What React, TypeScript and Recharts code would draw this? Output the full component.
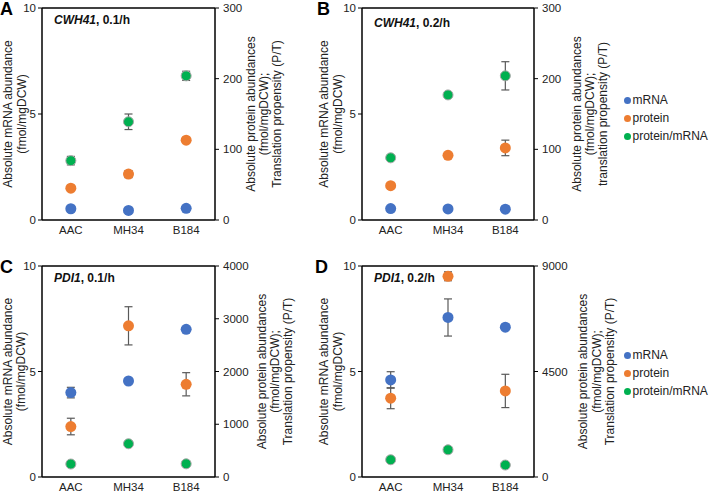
import React from 'react';
import {
  ComposedChart,
  Line,
  XAxis,
  YAxis,
  ErrorBar,
  ReferenceLine,
  Legend
} from 'recharts';

const FONT = '"Liberation Sans", Arial, Helvetica, sans-serif';

const categories = ['AAC', 'MH34', 'B184'];

// A: CWH41, 0.1/h
const aMrna = [0.53, 0.45, 0.55];
const aMrnaErr = [0.02, 0.02, 0.02];
const aProtein = [45, 65, 113];
const aProteinErr = [2, 5, 2];
const aRatio = [84, 139, 204];
const aRatioErr = [6, 11, 6.5];

// B: CWH41, 0.2/h
const bMrna = [0.54, 0.52, 0.51];
const bMrnaErr = [0.02, 0.02, 0.02];
const bProtein = [48.5, 91.5, 102];
const bProteinErr = [2, 2, 11];
const bRatio = [88, 177, 204];
const bRatioErr = [2, 3, 20];

// C: PDI1, 0.1/h
const cMrna = [4.0, 4.55, 7.0];
const cMrnaErr = [0.25, 0.05, 0.03];
const cProtein = [957, 2866, 1758];
const cProteinErr = [157, 362, 220];
const cRatio = [246, 630, 250];
const cRatioErr = [15, 30, 10];

// D: PDI1, 0.2/h
const dMrna = [4.6, 7.56, 7.1];
const dMrnaErr = [0.39, 0.88, 0.08];
const dProtein = [3360, 8562, 3671];
const dProteinErr = [447, 190, 710];
const dRatio = [736, 1161, 510];
const dRatioErr = [20, 100, 20];

const leftTicks = [0, 5, 10];
const rightTicksAB = [0, 100, 200, 300];
const rightTicksC = [0, 1000, 2000, 3000, 4000];
const rightTicksD = [0, 4500, 9000];

const SERIES = [
  { key: 'mrna', name: 'mRNA', color: '#4472C4' },
  { key: 'protein', name: 'protein', color: '#ED7D31' },
  { key: 'ratio', name: 'protein/mRNA', color: '#00B050' },
];

const AxisTitle = ({ lines, xs, cy }: { lines: string[]; xs: number[]; cy: number }) => (
  <g>
    {lines.map((t, i) => (
      <text
        key={i}
        x={xs[i]}
        y={cy}
        transform={`rotate(-90, ${xs[i]}, ${cy})`}
        textAnchor="middle"
        dominantBaseline="central"
        fontSize={12}
        fill="#222"
        fontFamily={FONT}
      >
        {t}
      </text>
    ))}
  </g>
);

const LegendContent = () => (
  <div style={{ fontFamily: FONT, fontSize: 12, color: '#222' }}>
    {SERIES.map((s) => (
      <div key={s.key} style={{ display: 'flex', alignItems: 'center', height: 18, whiteSpace: 'nowrap' }}>
        <span
          style={{
            display: 'inline-block',
            width: 7,
            height: 7,
            borderRadius: '50%',
            background: s.color,
            marginRight: 2,
          }}
        />
        {s.name}
      </div>
    ))}
  </div>
);

interface PanelProps {
  left: number;
  top: number;
  width: number;
  leftW: number;
  plotW: number;
  letter: string;
  letterX: number;
  gene: string;
  rate: string;
  titleTop: number;
  rightMax: number;
  rightTicks: number[];
  mrna: number[];
  mrnaErr: number[];
  protein: number[];
  proteinErr: number[];
  ratio: number[];
  ratioErr: number[];
  leftTitleX: number[];
  rightTitleX: number[];
  rightTitle: string[];
  xAxisHeight: number;
  legendLeft?: number;
  legendTop?: number;
}

const Panel = (p: PanelProps) => {
  const data = categories.map((c, i) => ({
    cat: c,
    mrna: p.mrna[i],
    mrnaErr: p.mrnaErr[i],
    protein: p.protein[i],
    proteinErr: p.proteinErr[i],
    ratio: p.ratio[i],
    ratioErr: p.ratioErr[i],
  }));
  const height = 245;
  const rightWidth = p.width - p.leftW - p.plotW;
  const cy = 8 + (height - 8 - p.xAxisHeight) / 2;
  const tick = { fontSize: 11.5, fill: '#222', fontFamily: FONT };

  return (
    <div style={{ position: 'absolute', left: p.left, top: p.top, width: p.width, height }}>
      <ComposedChart
        width={p.width}
        height={height}
        data={data}
        margin={{ top: 8, right: 0, bottom: 0, left: 0 }}
      >
        <XAxis
          dataKey="cat"
          type="category"
          scale="band"
          height={p.xAxisHeight}
          tickLine={false}
          tickSize={0}
          tickMargin={6}
          axisLine={{ stroke: '#000', strokeWidth: 1.5 }}
          tick={tick}
        />
        <YAxis
          yAxisId="left"
          width={p.leftW}
          domain={[0, 10]}
          ticks={leftTicks}
          tickSize={4}
          tickMargin={2}
          axisLine={{ stroke: '#000', strokeWidth: 1.5 }}
          tickLine={{ stroke: '#000', strokeWidth: 1 }}
          tick={tick}
          label={<AxisTitle lines={['Absolute mRNA abundance', '(fmol/mgDCW)']} xs={p.leftTitleX} cy={cy} />}
        />
        <YAxis
          yAxisId="right"
          orientation="right"
          width={rightWidth}
          domain={[0, p.rightMax]}
          ticks={p.rightTicks}
          tickSize={4}
          tickMargin={4}
          axisLine={{ stroke: '#000', strokeWidth: 1.5 }}
          tickLine={{ stroke: '#000', strokeWidth: 1 }}
          tick={tick}
          label={<AxisTitle lines={p.rightTitle} xs={p.rightTitleX} cy={cy} />}
        />
        <ReferenceLine yAxisId="left" y={10} stroke="#000" strokeWidth={1.5} />
        {SERIES.map((s) => (
          <Line
            key={s.key}
            dataKey={s.key}
            name={s.name}
            yAxisId={s.key === 'mrna' ? 'left' : 'right'}
            stroke="none"
            legendType="none"
            dot={{
              r: s.key === 'ratio' ? 5 : 5.5,
              fill: s.color,
              stroke: s.key === 'ratio' ? '#a6a6a6' : 'none',
              strokeWidth: 1,
              fillOpacity: 1,
            }}
            activeDot={false}
            isAnimationActive={false}
          >
            <ErrorBar dataKey={`${s.key}Err`} direction="y" width={4} stroke="#595959" strokeWidth={1.2} />
          </Line>
        ))}
        {p.legendTop !== undefined && (
          <Legend
            layout="vertical"
            align="center"
            verticalAlign="middle"
            content={<LegendContent />}
            wrapperStyle={{ left: p.legendLeft, top: p.legendTop, width: 'auto', height: 'auto' }}
          />
        )}
      </ComposedChart>
      <div
        style={{
          position: 'absolute',
          left: p.letterX,
          top: 0,
          fontFamily: FONT,
          fontWeight: 'bold',
          fontSize: 18,
          lineHeight: '18px',
        }}
      >
        {p.letter}
      </div>
      <div
        style={{
          position: 'absolute',
          left: p.leftW + 12,
          top: p.titleTop,
          fontFamily: FONT,
          fontWeight: 'bold',
          fontSize: 12,
          lineHeight: '14px',
          color: '#111',
          whiteSpace: 'nowrap',
        }}
      >
        <i>{p.gene}</i>, {p.rate}
      </div>
    </div>
  );
};

const App: React.FC = () => {
  return (
    <div
      style={{
        position: 'absolute',
        left: 0,
        top: 0,
        width: 711,
        height: 493,
        background: '#fff',
        fontFamily: FONT,
      }}
    >
      <Panel
        left={0}
        top={0}
        width={320}
        leftW={42}
        plotW={173}
        letter="A"
        letterX={0}
        gene="CWH41"
        rate="0.1/h"
        titleTop={13}
        rightMax={300}
        rightTicks={rightTicksAB}
        mrna={aMrna}
        mrnaErr={aMrnaErr}
        protein={aProtein}
        proteinErr={aProteinErr}
        ratio={aRatio}
        ratioErr={aRatioErr}
        leftTitleX={[8, 22]}
        rightTitleX={[251, 264, 277]}
        rightTitle={['Absolute protein abundances', '(fmol/mgDCW);', 'Translation propensity (P/T)']}
        xAxisHeight={25}
      />
      <Panel
        left={300}
        top={0}
        width={411}
        leftW={62}
        plotW={172}
        letter="B"
        letterX={17}
        gene="CWH41"
        rate="0.2/h"
        titleTop={16}
        rightMax={300}
        rightTicks={rightTicksAB}
        mrna={bMrna}
        mrnaErr={bMrnaErr}
        protein={bProtein}
        proteinErr={bProteinErr}
        ratio={bRatio}
        ratioErr={bRatioErr}
        leftTitleX={[24, 38]}
        rightTitleX={[277, 290, 303]}
        rightTitle={['Absolute protein abundances', '(fmol/mgDCW);', 'translation propensity (P/T)']}
        xAxisHeight={25}
        legendLeft={323.5}
        legendTop={91}
      />
      <Panel
        left={0}
        top={258}
        width={320}
        leftW={42}
        plotW={173}
        letter="C"
        letterX={0}
        gene="PDI1"
        rate="0.1/h"
        titleTop={13}
        rightMax={4000}
        rightTicks={rightTicksC}
        mrna={cMrna}
        mrnaErr={cMrnaErr}
        protein={cProtein}
        proteinErr={cProteinErr}
        ratio={cRatio}
        ratioErr={cRatioErr}
        leftTitleX={[8, 21]}
        rightTitleX={[262, 275, 288]}
        rightTitle={['Absolute protein abundances', '(fmol/mgDCW);', 'Translation propensity (P/T)']}
        xAxisHeight={26}
      />
      <Panel
        left={300}
        top={258}
        width={411}
        leftW={62}
        plotW={172}
        letter="D"
        letterX={15}
        gene="PDI1"
        rate="0.2/h"
        titleTop={13}
        rightMax={9000}
        rightTicks={rightTicksD}
        mrna={dMrna}
        mrnaErr={dMrnaErr}
        protein={dProtein}
        proteinErr={dProteinErr}
        ratio={dRatio}
        ratioErr={dRatioErr}
        leftTitleX={[24, 38]}
        rightTitleX={[283, 297, 310]}
        rightTitle={['Absolute protein abundances', '(fmol/mgDCW);', 'Translation propensity (P/T)']}
        xAxisHeight={26}
        legendLeft={323.5}
        legendTop={88}
      />
    </div>
  );
};

export default App;
